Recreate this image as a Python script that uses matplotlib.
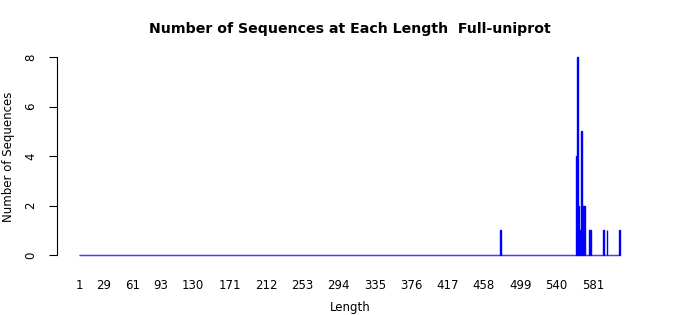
import numpy as np
import matplotlib
matplotlib.use("Agg")
import matplotlib.pyplot as plt

# sequence lengths with non-zero counts (everything else is 0)
spike_len = [477, 563, 564, 565, 566, 567, 568, 569, 570, 571, 572, 577, 578, 593, 597, 611]
spike_cnt = [1, 4, 8, 2, 1, 1, 5, 2, 2, 2, 2, 1, 1, 1, 1, 1]
max_len = 611

tick_vals = [1, 29, 61, 93, 130, 171, 212, 253, 294, 335, 376, 417, 458, 499, 540, 581]
y_ticks = [0, 2, 4, 6, 8]

lengths = np.arange(1, max_len + 1)
counts = np.zeros(max_len)
for l, c in zip(spike_len, spike_cnt):
    counts[l - 1] = c

fig = plt.figure(figsize=(7, 3.15), dpi=100)
ax = fig.add_axes([57 / 700, 60 / 315, 600 / 700, 198 / 315])

# one bar per length, zero bars give the flat baseline
ax.bar(lengths, counts, width=1.0, color="#0000ff", edgecolor="#0000ff",
       linewidth=1.0, clip_on=False)

ax.set_xlim(-23.8, -23.8 + 600 / 0.886)
ax.set_ylim(0, 8)

for s in ["top", "right", "bottom"]:
    ax.spines[s].set_visible(False)
ax.spines["left"].set_linewidth(0.8)

ax.set_xticks(tick_vals)
ax.set_xticklabels([str(t) for t in tick_vals], fontsize=8.5)
ax.tick_params(axis="x", length=0, pad=17)
ax.set_yticks(y_ticks)
ax.set_yticklabels([str(t) for t in y_ticks], fontsize=8.5, rotation=90, va="center")
ax.tick_params(axis="y", length=6, width=0.8, pad=8)

fig.text(0.5, 1 - 29 / 315, "Number of Sequences at Each Length  Full-uniprot",
         ha="center", va="center", fontsize=10.2, fontweight="bold")
fig.text(0.5, 1 - 307 / 315, "Length", ha="center", va="center", fontsize=8.5)
fig.text(9 / 700, 1 - 157 / 315, "Number of Sequences", ha="center", va="center",
         rotation=90, fontsize=8.5)

fig.savefig("out.png", dpi=100)
